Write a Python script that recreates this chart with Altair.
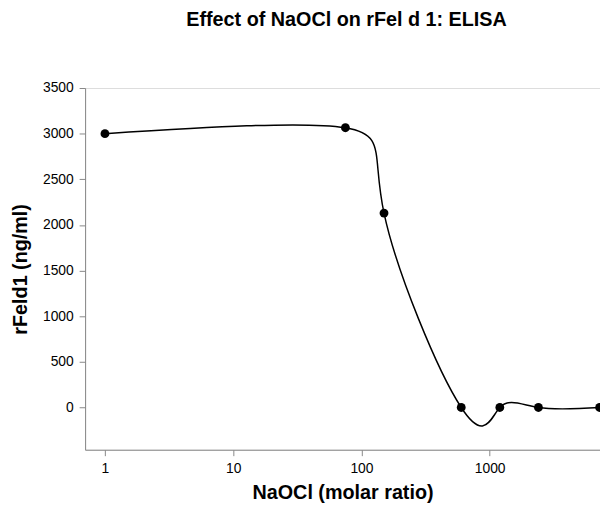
import altair as alt
import pandas as pd

ratio = [1, 75, 150, 600, 1200, 2400, 7200]
feld1 = [3000, 3065, 2130, 0, 0, 0, 0]
x_ticks = [1, 10, 100, 1000]
y_ticks = [0, 500, 1000, 1500, 2000, 2500, 3000, 3500]

df = pd.DataFrame({"ratio": ratio, "feld1": feld1})

font = "Liberation Sans"

x = alt.X("ratio:Q",
          scale=alt.Scale(type="log", domain=[0.70, 7250], nice=False),
          axis=alt.Axis(values=x_ticks, format="d", title="NaOCl (molar ratio)",
                        grid=False, tickSize=6, labelPadding=6, titlePadding=7,
                        labelFontSize=14, titleFontSize=20))
y = alt.Y("feld1:Q",
          scale=alt.Scale(domain=[-463, 3500], nice=False, zero=False),
          axis=alt.Axis(values=y_ticks, format="d", title="rFeld1 (ng/ml)",
                        grid=False, tickSize=6, labelPadding=6, titlePadding=12,
                        labelFontSize=14, titleFontSize=20))

line = alt.Chart(df).mark_line(interpolate="natural", color="black",
                               strokeWidth=1.5, clip=True).encode(x=x, y=y)
pts = alt.Chart(df).mark_circle(color="black", size=80, opacity=1,
                                clip=True).encode(x=x, y=y)

chart = (line + pts).properties(
    width=521, height=366,
    title=alt.TitleParams("Effect of NaOCl on rFel d 1: ELISA", fontSize=20,
                          font=font, fontWeight="bold", offset=36, dx=4,
                          baseline="alphabetic"),
    autosize=alt.AutoSizeParams(type="none"),
    padding={"left": 78, "top": 78, "right": 0, "bottom": 57},
).configure_axis(
    labelFont=font, titleFont=font, labelColor="black", titleColor="black",
    domainColor="black", tickColor="black", titleFontWeight="bold",
).configure_view(stroke="black", strokeWidth=1).configure(background="white")

chart.save("out.html", embed_options={"renderer": "svg", "actions": False})
